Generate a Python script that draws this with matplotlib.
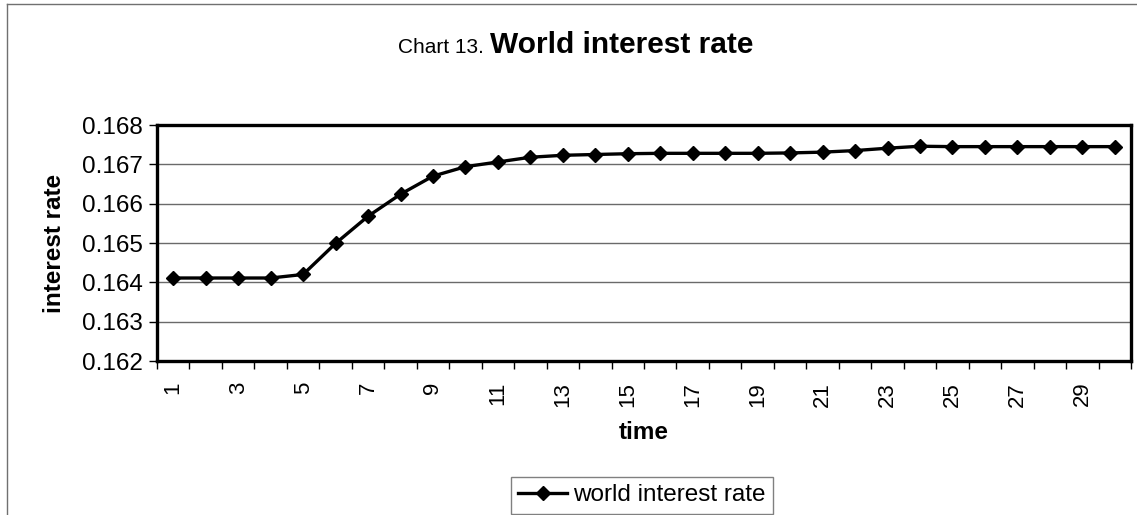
import matplotlib
matplotlib.use('Agg')
from matplotlib import pyplot as plt
from matplotlib.lines import Line2D
from matplotlib.ticker import FixedLocator, FormatStrFormatter

plt.rcParams['font.family'] = ['Liberation Sans', 'DejaVu Sans']

# Data
periods = list(range(1, 31))
world_rate = [0.16411, 0.16411, 0.16411, 0.16411, 0.16420,
              0.16499, 0.16568, 0.16624, 0.16670, 0.16694,
              0.16706, 0.16718, 0.16723, 0.16725, 0.16727,
              0.16728, 0.16728, 0.16728, 0.16728, 0.16729,
              0.16731, 0.16735, 0.16741, 0.16746, 0.16745,
              0.16745, 0.16745, 0.16745, 0.16745, 0.16745]
y_ticks = [0.162, 0.163, 0.164, 0.165, 0.166, 0.167, 0.168]
x_labels = [str(p) for p in periods]

W, H = 1137, 515
fig = plt.figure(figsize=(W / 100, H / 100), dpi=100)

# plot area in pixels: left 157, right 1131, top 125, bottom 361
ax = fig.add_axes([157 / W, 1 - 361 / H, (1131 - 157) / W, (361 - 125) / H])

ax.plot(periods, world_rate, color='black', lw=2.4, marker='D', ms=6.8,
        label='world interest rate', zorder=3)

ax.set_xlim(0.5, 30.5)
ax.set_ylim(0.162, 0.168)
ax.set_yticks(y_ticks)
ax.yaxis.set_major_formatter(FormatStrFormatter('%.3f'))
ax.grid(axis='y', color='#6a6a6a', lw=1)
ax.set_axisbelow(True)

# category axis: ticks between categories, labels on odd periods
ax.xaxis.set_major_locator(FixedLocator(periods[::2]))
ax.set_xticklabels(x_labels[::2], rotation=90)
ax.xaxis.set_minor_locator(FixedLocator([p - 0.5 for p in periods] + [30.5]))
ax.tick_params(axis='x', which='major', length=0, pad=15, labelsize=16)
ax.tick_params(axis='x', which='minor', length=6, width=1, direction='out')
ax.tick_params(axis='y', length=6, width=1, direction='out', labelsize=17.5, pad=4)

for s in ax.spines.values():
    s.set_linewidth(2.4)
    s.set_color('black')

ax.set_ylabel('interest rate', fontsize=17.5, fontweight='bold', labelpad=12)
ax.set_xlabel('time', fontsize=17.5, fontweight='bold', labelpad=10)

# title: small prefix + bold main text
fig.text(398 / W, 1 - 53 / H, 'Chart 13.', fontsize=15, va='baseline', ha='left')
fig.text(490 / W, 1 - 53 / H, 'World interest rate', fontsize=21.5,
         fontweight='bold', va='baseline', ha='left')

# outer chart border (left and top)
fig.add_artist(Line2D([7 / W, 7 / W], [0, 1 - 4 / H], transform=fig.transFigure,
                      color='#707070', lw=1))
fig.add_artist(Line2D([7 / W, 1], [1 - 4 / H, 1 - 4 / H], transform=fig.transFigure,
                      color='#707070', lw=1))

leg = fig.legend(loc='upper left', bbox_to_anchor=(511 / W, 1 - 477 / H),
                 fontsize=17.5, frameon=True, fancybox=False, handlelength=2.0,
                 handletextpad=0.25, borderpad=0.3, borderaxespad=0)
leg.get_frame().set_edgecolor('#606060')
leg.get_frame().set_linewidth(1)

fig.savefig('out.png', dpi=100)
